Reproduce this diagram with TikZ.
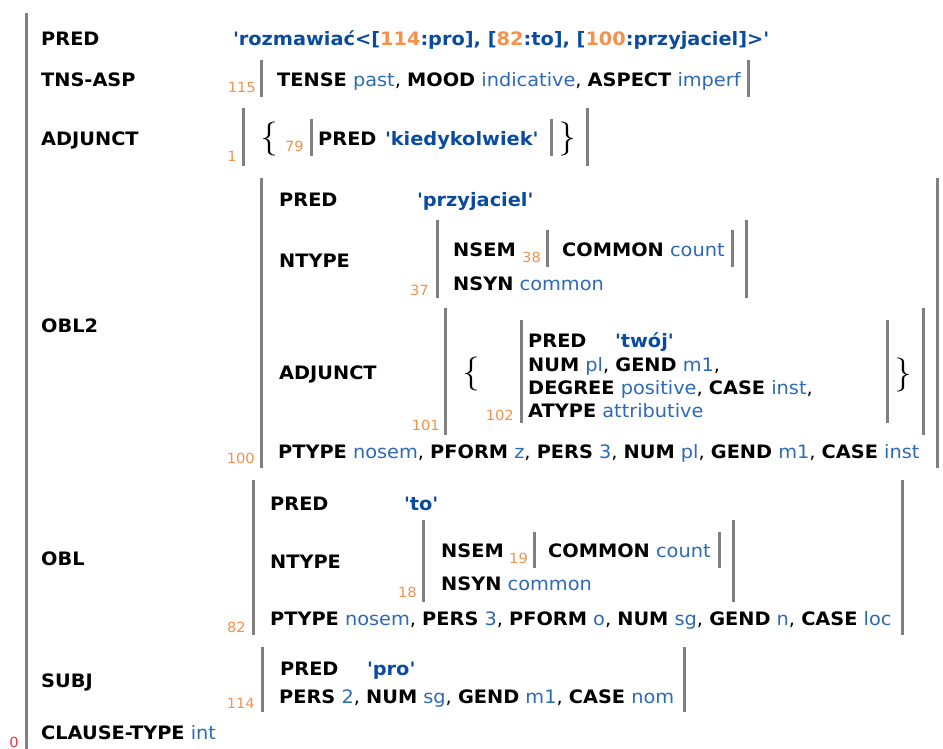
\documentclass[tikz,border=0pt]{standalone}
\usepackage{fontspec}
\setmainfont{DejaVu Sans}[FakeStretch=1.045]

\definecolor{fblue}{RGB}{45,105,185}
\definecolor{pblue}{RGB}{10,75,160}
\definecolor{forange}{RGB}{245,145,75}
\definecolor{fred}{RGB}{235,50,60}
\definecolor{fgray}{RGB}{128,128,128}

\newcommand{\attr}[1]{\textbf{#1}}
\newcommand{\fval}[1]{\textcolor{fblue}{#1}}
\newcommand{\pval}[1]{\textcolor{pblue}{\textbf{\textquotesingle#1\textquotesingle}}}
\newcommand{\pnum}[1]{\textcolor{forange}{#1}}

\begin{document}
\begin{tikzpicture}[x=1pt, y=-1pt,
    txt/.style={anchor=base west, inner sep=0pt, font=\fontsize{18.5}{18.5}\selectfont},
    idx/.style={anchor=base east, inner sep=0pt, text=forange, font=\fontsize{14}{14}\selectfont},
    brace/.style={anchor=center, inner sep=0pt, font=\fontfamily{lmr}\fontsize{34}{34}\selectfont},
    bar/.style={draw=fgray, line width=3pt}]
    \useasboundingbox (0,0) rectangle (943,749);

    % outer f-structure 0
    \draw[bar] (26,13) -- (26,749);
    \node[idx, text=fred] (n0) at (19,747) {0};
    \node[txt] (pred) at (41,46) {\attr{PRED}};
    \node[txt] (predv) at (233,46) {\textcolor{pblue}{\textbf{\textquotesingle rozmawiać<[\pnum{114}:pro], [\pnum{82}:to], [\pnum{100}:przyjaciel]>\textquotesingle}}};

    % TNS-ASP
    \node[txt] (tns) at (41,87) {\attr{TNS-ASP}};
    \node[idx] (n115) at (256,93) {115};
    \draw[bar] (261,60) -- (261,97);
    \node[txt] (tnsv) at (277,87) {\attr{TENSE} \fval{past}, \attr{MOOD} \fval{indicative}, \attr{ASPECT} \fval{imperf}};
    \draw[bar] (748,60) -- (748,97);

    % ADJUNCT set 1
    \node[txt] (adj) at (41,146) {\attr{ADJUNCT}};
    \node[idx] (n1) at (237,162) {1};
    \draw[bar] (243,108) -- (243,166);
    \node[brace] (lb1) at (269,139) {\{};
    \node[idx] (n79) at (304,152) {79};
    \draw[bar] (311,119) -- (311,156);
    \node[txt] (pred79) at (318,146) {\attr{PRED}};
    \node[txt] (predv79) at (385,146) {\pval{kiedykolwiek}};
    \draw[bar] (551,119) -- (551,156);
    \node[brace] (rb1) at (567,139) {\}};
    \draw[bar] (587,108) -- (587,166);

    % OBL2 = 100
    \node[txt] (obl2) at (41,332) {\attr{OBL2}};
    \node[idx] (n100) at (255,463) {100};
    \draw[bar] (261,178) -- (261,468);
    \draw[bar] (937,178) -- (937,468);
    \node[txt] (pred100) at (279,207) {\attr{PRED}};
    \node[txt] (predv100) at (417,207) {\pval{przyjaciel}};
    \node[txt] (ntype100) at (279,267) {\attr{NTYPE}};
    \node[idx] (n37) at (429,295) {37};
    \draw[bar] (437,220) -- (437,298);
    \node[txt] (nsem37) at (453,256) {\attr{NSEM}};
    \node[idx, anchor=base west] (n38) at (522,262) {38};
    \draw[bar] (547,230) -- (547,267);
    \node[txt] (com38) at (562,256) {\attr{COMMON} \fval{count}};
    \draw[bar] (732,230) -- (732,267);
    \node[txt] (nsyn37) at (453,290) {\attr{NSYN} \fval{common}};
    \draw[bar] (746,220) -- (746,298);
    \node[txt] (adj100) at (279,379) {\attr{ADJUNCT}};
    \node[idx] (n101) at (440,430) {101};
    \draw[bar] (445,308) -- (445,435);
    \node[brace] (lb101) at (471,374) {\{};
    \node[idx] (n102) at (514,420) {102};
    \draw[bar] (521,320) -- (521,423);
    \node[txt] (pred102) at (528,347) {\attr{PRED}};
    \node[txt] (predv102) at (615,347) {\pval{twój}};
    \node[txt] (num102) at (528,371) {\attr{NUM} \fval{pl}, \attr{GEND} \fval{m1},};
    \node[txt] (deg102) at (528,394) {\attr{DEGREE} \fval{positive}, \attr{CASE} \fval{inst},};
    \node[txt] (aty102) at (528,417) {\attr{ATYPE} \fval{attributive}};
    \draw[bar] (887,320) -- (887,423);
    \node[brace] (rb101) at (903,375) {\}};
    \draw[bar] (923,308) -- (923,435);
    \node[txt] (pty100) at (278,458) {\attr{PTYPE} \fval{nosem}, \attr{PFORM} \fval{z}, \attr{PERS} \fval{3}, \attr{NUM} \fval{pl}, \attr{GEND} \fval{m1}, \attr{CASE} \fval{inst}};

    % OBL = 82
    \node[txt] (obl) at (41,565) {\attr{OBL}};
    \node[idx] (n82) at (246,632) {82};
    \draw[bar] (253,480) -- (253,635);
    \draw[bar] (902,480) -- (902,635);
    \node[txt] (pred82) at (270,510) {\attr{PRED}};
    \node[txt] (predv82) at (404,510) {\pval{to}};
    \node[txt] (ntype82) at (270,568) {\attr{NTYPE}};
    \node[idx] (n18) at (417,597) {18};
    \draw[bar] (423,520) -- (423,602);
    \node[txt] (nsem18) at (441,557) {\attr{NSEM}};
    \node[idx, anchor=base west] (n19) at (509,563) {19};
    \draw[bar] (534,532) -- (534,568);
    \node[txt] (com19) at (548,557) {\attr{COMMON} \fval{count}};
    \draw[bar] (719,532) -- (719,568);
    \node[txt] (nsyn18) at (441,590) {\attr{NSYN} \fval{common}};
    \draw[bar] (733,520) -- (733,602);
    \node[txt] (pty82) at (270,625) {\attr{PTYPE} \fval{nosem}, \attr{PERS} \fval{3}, \attr{PFORM} \fval{o}, \attr{NUM} \fval{sg}, \attr{GEND} \fval{n}, \attr{CASE} \fval{loc}};

    % SUBJ = 114
    \node[txt] (subj) at (41,687) {\attr{SUBJ}};
    \node[idx] (n114) at (255,708) {114};
    \draw[bar] (262,647) -- (262,712);
    \node[txt] (pred114) at (280,675) {\attr{PRED}};
    \node[txt] (predv114) at (367,675) {\pval{pro}};
    \node[txt] (pers114) at (279,703) {\attr{PERS} \fval{2}, \attr{NUM} \fval{sg}, \attr{GEND} \fval{m1}, \attr{CASE} \fval{nom}};
    \draw[bar] (684,647) -- (684,712);

    % CLAUSE-TYPE
    \node[txt] (ctype) at (41,739) {\attr{CLAUSE-TYPE} \fval{int}};
\end{tikzpicture}
\end{document}
